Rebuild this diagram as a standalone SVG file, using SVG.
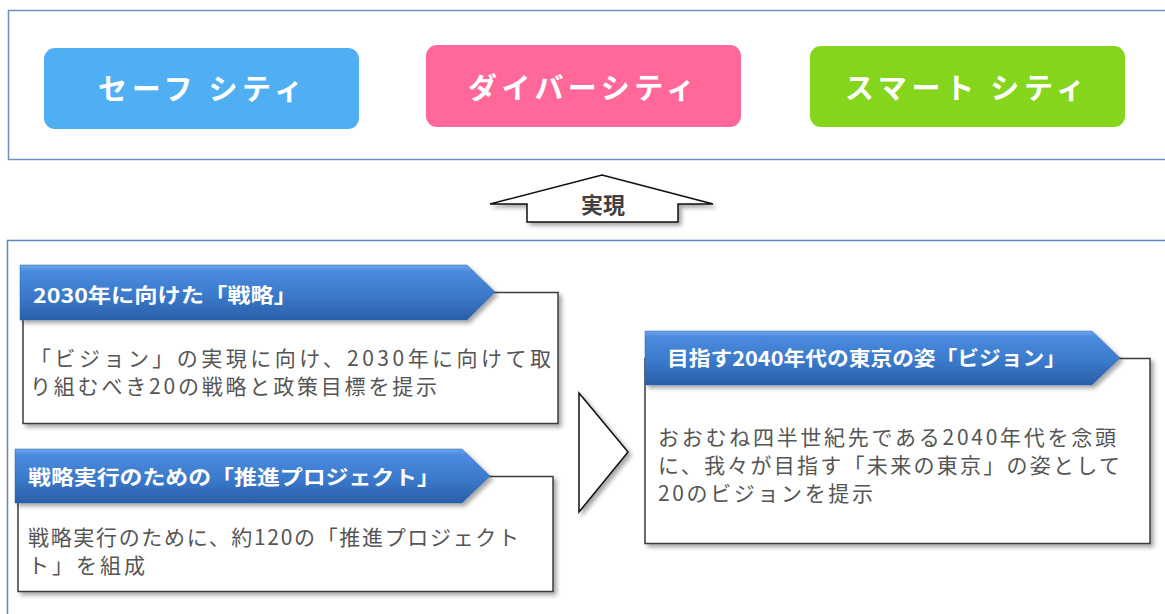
<svg xmlns="http://www.w3.org/2000/svg" width="1165" height="614" viewBox="0 0 1165 614">
<style>
.frame{fill:#fff;stroke:#6d91bd;stroke-width:1.5}
.pill{stroke:none}
.pilltxt{font-family:"Noto Sans CJK JP","Noto Sans",sans-serif;font-weight:700;font-size:29px;fill:#fff}
.body{fill:#fff;stroke:#3c3c3c;stroke-width:1.5}
.banner{fill:url(#bg);stroke:#2f66ad;stroke-width:0.5}
.htxt{font-family:"Noto Sans CJK JP","Noto Sans",sans-serif;font-weight:700;font-size:20px;fill:#fff}
.btxt{font-family:"Noto Sans CJK JP","Noto Sans",sans-serif;font-size:21px;fill:#555}
.arrow{fill:#fff;stroke:#111;stroke-width:1.5}
</style>
<defs>
<linearGradient id="bg" x1="0" y1="0" x2="0" y2="1">
<stop offset="0" stop-color="#6aa6ea"/>
<stop offset="0.12" stop-color="#4a8ade"/>
<stop offset="0.55" stop-color="#3b7acb"/>
<stop offset="1" stop-color="#2a5fa8"/>
</linearGradient>
<filter id="sh" x="-10%" y="-10%" width="130%" height="130%">
<feDropShadow dx="3" dy="3" stdDeviation="2" flood-color="#000" flood-opacity="0.35"/>
</filter>
</defs>
<rect width="1165" height="614" fill="#fff"/>

<g id="top-frame">
<rect class="frame" x="8.5" y="10.5" width="1170" height="149"/>
</g>
<g id="safe-city">
<rect class="pill" x="44" y="48" width="315" height="81" rx="11" fill="#50aef3"/>
<text class="pilltxt" x="98" y="100" textLength="205" lengthAdjust="spacing">セーフ シティ</text>
</g>
<g id="diversity">
<rect class="pill" x="426" y="45" width="315" height="82" rx="11" fill="#ff6899"/>
<text class="pilltxt" x="468" y="99" textLength="227" lengthAdjust="spacing">ダイバーシティ</text>
</g>
<g id="smart-city">
<rect class="pill" x="810" y="46" width="315" height="81" rx="11" fill="#84d51c"/>
<text class="pilltxt" x="845" y="99" textLength="240" lengthAdjust="spacing">スマート シティ</text>
</g>

<g id="bottom-frame">
<rect class="frame" x="7.5" y="240.5" width="1170" height="390" style="stroke:#5b88c0"/>
</g>

<g id="connectors">
<polygon class="arrow" filter="url(#sh)" points="490,204 602,175 713,204 678,204 678,222 527,222 527,204"/>
<text x="603" y="213" text-anchor="middle" font-family="Noto Sans CJK JP, sans-serif" font-weight="700" font-size="22" fill="#404040">実現</text>
<polygon class="arrow" filter="url(#sh)" points="579,393 628,452 579,512"/>
</g>

<g id="strategy">
<rect class="body" filter="url(#sh)" x="23" y="292.5" width="535" height="131"/>
<polygon class="banner" filter="url(#sh)" points="20,265 467,265 495,292 467,320 20,320"/>
<text class="htxt" x="33" y="303" textLength="264" lengthAdjust="spacingAndGlyphs">2030年に向けた「戦略」</text>
<text class="btxt" x="30" y="366" textLength="521" lengthAdjust="spacing">「ビジョン」の実現に向け、2030年に向けて取</text>
<text class="btxt" x="30" y="394" textLength="407" lengthAdjust="spacing">り組むべき20の戦略と政策目標を提示</text>
</g>

<g id="projects">
<rect class="body" filter="url(#sh)" x="18" y="476.5" width="535" height="115"/>
<polygon class="banner" filter="url(#sh)" points="15,449 462,449 490,476 462,503 15,503"/>
<text class="htxt" x="28" y="485" textLength="412" lengthAdjust="spacingAndGlyphs">戦略実行のための「推進プロジェクト」</text>
<text class="btxt" x="28" y="545" textLength="491" lengthAdjust="spacing">戦略実行のために、約120の「推進プロジェクト</text>
<text class="btxt" x="28" y="573" textLength="117" lengthAdjust="spacing">ト」を組成</text>
</g>

<g id="vision">
<rect class="body" filter="url(#sh)" x="645" y="358.5" width="505" height="185"/>
<polygon class="banner" filter="url(#sh)" points="645,331 1092,331 1120,358 1092,385 645,385"/>
<text class="htxt" x="667" y="366" textLength="399" lengthAdjust="spacingAndGlyphs">目指す2040年代の東京の姿「ビジョン」</text>
<text class="btxt" x="658" y="445" textLength="458" lengthAdjust="spacing">おおむね四半世紀先である2040年代を念頭</text>
<text class="btxt" x="658" y="473" textLength="462" lengthAdjust="spacing">に、我々が目指す「未来の東京」の姿として</text>
<text class="btxt" x="658" y="501" textLength="215" lengthAdjust="spacing">20のビジョンを提示</text>
</g>
</svg>
